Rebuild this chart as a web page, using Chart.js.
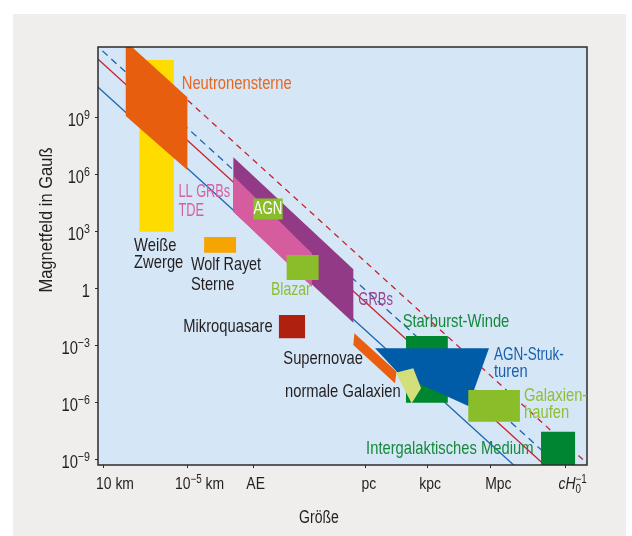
<!DOCTYPE html>
<html>
<head>
<meta charset="utf-8">
<script src="https://cdn.jsdelivr.net/npm/chart.js@4.4.1/dist/chart.umd.min.js"></script>
<style>
  html, body { margin: 0; padding: 0; background: #ffffff; }
  canvas { display: block; }
</style>
</head>
<body>
<canvas id="hillas" width="632" height="536"></canvas>
<script>
// Hillas diagram: size (log10 km) against magnetic field (log10 Gauss)

// ---- axis ticks ----
const sizeTicks = [1, 5, 8.175, 13.489, 16.489, 19.489, 23.1];
const sizeTickLabels = ['10 km', '10^{−5} km', 'AE', 'pc', 'kpc', 'Mpc', '*cH*_{0}^{−1}'];
const fieldTicks = [-9, -6, -3, 0, 3, 6, 9];
const fieldTickLabels = ['10^{−9}', '10^{−6}', '10^{−3}', '1', '10^{3}', '10^{6}', '10^{9}'];

// ---- Hillas limits (two end points each, [log R, log B]) ----
const ironSolid    = [[0.5, 10.8], [21.0, -9.7]];
const protonSolid  = [[0.5, 12.28], [23.0, -10.22]];
const ironDashed   = [[0.5, 12.92], [23.5, -10.08]];
const protonDashed = [[1.5, 13.4], [25.0, -10.1]];

// ---- source regions (corner points, [log R, log B]) ----
const whiteDwarfs    = [[2.69, 12.02], [4.34, 12.02], [4.34, 2.98], [2.69, 2.98]];
const neutronStars   = [[2.04, 13.0], [4.99, 10.05], [4.99, 6.23], [2.04, 9.07]];
const grbs           = [[7.19, 6.9], [12.93, 1.0], [12.93, -1.81], [7.19, 4.03]];
const llGrbsTde      = [[7.19, 5.91], [10.95, 1.84], [10.95, 0.08], [7.19, 4.03]];
const agnCores       = [[8.14, 4.72], [9.55, 4.72], [9.55, 3.62], [8.14, 3.62]];
const wolfRayet      = [[5.79, 2.7], [7.32, 2.7], [7.32, 1.87], [5.79, 1.87]];
const blazars        = [[9.74, 1.75], [11.27, 1.75], [11.27, 0.44], [9.74, 0.44]];
const microquasars   = [[9.37, -1.41], [10.62, -1.41], [10.62, -2.63], [9.37, -2.63]];
const starburstWinds = [[15.45, -2.51], [17.45, -2.51], [17.45, -6.02], [15.45, -6.02]];
const agnStructures  = [[13.97, -3.16], [19.42, -3.16], [18.43, -6.2], [15.16, -4.56]];
const supernovae     = [[12.98, -2.37], [15.0, -4.39], [14.92, -5.0], [12.93, -2.98]];
const normalGalaxies = [[14.96, -4.44], [15.8, -4.21], [16.17, -5.26], [15.72, -6.05]];
const clusters       = [[18.43, -5.35], [20.9, -5.35], [20.9, -7.02], [18.43, -7.02]];
const igm            = [[21.91, -7.55], [23.54, -7.55], [23.54, -9.6], [21.91, -9.6]];

// ---- region names, anchored in data units [log R, log B] ----
const regionNames = [
  { text: 'Neutronensterne', at: [4.72, 10.74], color: '#e8661e', align: 'left' },
  { text: 'LL GRBs', at: [4.56, 5.07], color: '#d65fa0', align: 'left', sq: 0.71 },
  { text: 'TDE', at: [4.56, 4.08], color: '#d65fa0', align: 'left', sq: 0.71 },
  { text: 'AGN', at: [8.845, 4.17], color: '#ffffff', align: 'center', sq: 0.74 },
  { text: 'Weiße', at: [2.44, 2.24], color: '#231f20', align: 'left' },
  { text: 'Zwerge', at: [2.44, 1.36], color: '#231f20', align: 'left' },
  { text: 'Wolf Rayet', at: [5.16, 1.22], color: '#231f20', align: 'left', sq: 0.8 },
  { text: 'Sterne', at: [5.16, 0.2], color: '#231f20', align: 'left' },
  { text: 'Blazar', at: [8.99, -0.08], color: '#8dbf35', align: 'left', sq: 0.78 },
  { text: 'GRBs', at: [13.17, -0.62], color: '#9b4290', align: 'left', sq: 0.72 },
  { text: 'Mikroquasare', at: [9.07, -2.0], color: '#231f20', align: 'right' },
  { text: 'Starburst-Winde', at: [15.29, -1.76], color: '#16883a', align: 'left' },
  { text: 'Supernovae', at: [9.58, -3.72], color: '#231f20', align: 'left' },
  { text: 'AGN-Struk-', at: [19.66, -3.48], color: '#1a60ab', align: 'left', sq: 0.75 },
  { text: 'turen', at: [19.66, -4.4], color: '#1a60ab', align: 'left' },
  { text: 'normale Galaxien', at: [9.66, -5.44], color: '#231f20', align: 'left' },
  { text: 'Galaxien-', at: [21.1, -5.66], color: '#8dbf35', align: 'left' },
  { text: 'haufen', at: [21.1, -6.56], color: '#8dbf35', align: 'left' },
  { text: 'Intergalaktisches Medium', at: [13.54, -8.42], color: '#17893b', align: 'left' }
];

const FONT = "'Liberation Sans', Arial, sans-serif";
const SQUEEZE = 0.82;      // condensed look
const LABEL_SIZE = 19;     // region names, widths kept as at 18px

const toPoints = arr => arr.map(([x, y]) => ({ x, y }));
const closed = arr => toPoints(arr.concat([arr[0]]));

function limitLine(pts, color, dash) {
  return {
    data: toPoints(pts), showLine: true, borderColor: color, borderWidth: 1.3,
    borderDash: dash, pointRadius: 0, fill: false, tension: 0
  };
}
function region(pts, color) {
  return {
    data: closed(pts), showLine: true, borderColor: 'rgba(0,0,0,0)', borderWidth: 0,
    backgroundColor: color, pointRadius: 0, fill: 'shape', tension: 0
  };
}

// back-to-front
const layers = [
  limitLine(ironSolid, '#1b64b1', []),
  limitLine(protonSolid, '#c8212a', []),
  limitLine(ironDashed, '#1b64b1', [7, 5]),
  limitLine(protonDashed, '#c8212a', [6, 5]),
  region(whiteDwarfs, '#ffdc00'),
  region(neutronStars, '#e85e0f'),
  region(grbs, '#933a86'),
  region(llGrbsTde, '#d55c9e'),
  region(agnCores, '#89bd29'),
  region(wolfRayet, '#f5a400'),
  region(blazars, '#89bd29'),
  region(microquasars, '#b0200e'),
  region(starburstWinds, '#00862f'),
  region(agnStructures, '#005ca6'),
  region(supernovae, '#ea5e10'),
  region(normalGalaxies, '#d3df7a'),
  region(clusters, '#89bd29'),
  region(igm, '#008532')
];
layers.forEach((d, i) => { d.order = layers.length - i; });

// text drawn with a horizontal squeeze
function squeezedText(ctx, text, x, y, align, sq) {
  const w = ctx.measureText(text).width * sq;
  const x0 = align === 'center' ? x - w / 2 : align === 'right' ? x - w : x;
  ctx.save();
  ctx.translate(x0, y);
  ctx.scale(sq, 1);
  ctx.textAlign = 'left';
  ctx.fillText(text, 0, 0);
  ctx.restore();
}

// small markup: ^{sup}, _{sub}, *italic*
function parseMarkup(s) {
  const parts = [];
  let italic = false, buf = '';
  for (let i = 0; i < s.length; i++) {
    const c = s[i];
    if (c === '*') {
      if (buf) parts.push({ t: buf, italic, mode: 'n' });
      buf = ''; italic = !italic; continue;
    }
    if ((c === '^' || c === '_') && s[i + 1] === '{') {
      if (buf) parts.push({ t: buf, italic, mode: 'n' });
      buf = '';
      const end = s.indexOf('}', i);
      parts.push({ t: s.slice(i + 2, end), italic: false, mode: c === '^' ? 'sup' : 'sub' });
      i = end; continue;
    }
    buf += c;
  }
  if (buf) parts.push({ t: buf, italic, mode: 'n' });
  return parts;
}

function drawRich(ctx, markup, x, y, size, align, color) {
  const parts = parseMarkup(markup);
  const small = Math.round(size * 0.7);
  const placed = [];
  let cursor = 0, prev = null;
  for (const p of parts) {
    const font = `${p.italic ? 'italic ' : ''}${p.mode === 'n' ? size : small}px ${FONT}`;
    ctx.font = font;
    const w = ctx.measureText(p.t).width * SQUEEZE;
    let px = cursor;
    if (prev && prev.mode !== 'n' && p.mode !== 'n' && prev.mode !== p.mode) px = prev.x;
    const item = { t: p.t, mode: p.mode, x: px, font };
    placed.push(item);
    cursor = Math.max(cursor, px + w);
    prev = item;
  }
  const x0 = align === 'center' ? x - cursor / 2 : align === 'right' ? x - cursor : x;
  ctx.textBaseline = 'alphabetic';
  ctx.fillStyle = color;
  for (const p of placed) {
    ctx.font = p.font;
    const dy = p.mode === 'sup' ? -size * 0.38 : p.mode === 'sub' ? size * 0.26 : 0;
    squeezedText(ctx, p.t, x0 + p.x, y + dy, 'left', SQUEEZE);
  }
}

const backdrop = {
  id: 'backdrop',
  beforeDraw(chart) {
    const { ctx, chartArea: a } = chart;
    ctx.save();
    ctx.fillStyle = '#ffffff';
    ctx.fillRect(0, 0, chart.width, chart.height);
    ctx.fillStyle = '#efeeec';
    ctx.fillRect(13, 14, 613, 522);
    ctx.fillStyle = '#d5e6f6';
    ctx.fillRect(a.left, a.top, a.right - a.left, a.bottom - a.top);
    ctx.restore();
  }
};

const sizeLabelShift = [11, 12, 1.7, 3.8, 2.5, 8, 6.7];

const overlay = {
  id: 'overlay',
  afterDraw(chart) {
    const { ctx, chartArea: a, scales: { x, y } } = chart;
    ctx.save();
    // frame
    ctx.strokeStyle = '#2b2b2b';
    ctx.lineWidth = 1.5;
    ctx.strokeRect(a.left, a.top, a.right - a.left, a.bottom - a.top);

    // region names
    ctx.textBaseline = 'middle';
    ctx.font = `${LABEL_SIZE}px ${FONT}`;
    for (const r of regionNames) {
      ctx.fillStyle = r.color;
      const sq = (r.sq || SQUEEZE) * 18 / LABEL_SIZE;
      squeezedText(ctx, r.text, x.getPixelForValue(r.at[0]), y.getPixelForValue(r.at[1]), r.align, sq);
    }

    // tick labels
    sizeTicks.forEach((v, i) => {
      drawRich(ctx, sizeTickLabels[i], x.getPixelForValue(v) + sizeLabelShift[i], a.bottom + 24, 17, 'center', '#231f20');
    });
    fieldTicks.forEach((v, i) => {
      drawRich(ctx, fieldTickLabels[i], a.left - 8, y.getPixelForValue(v) + 8.7, 18, 'right', '#231f20');
    });

    // axis titles
    ctx.fillStyle = '#231f20';
    ctx.textBaseline = 'alphabetic';
    ctx.font = `18px ${FONT}`;
    squeezedText(ctx, 'Größe', 319, 523, 'center', 0.78);
    ctx.translate(52, 220);
    ctx.rotate(-Math.PI / 2);
    ctx.font = `19px ${FONT}`;
    squeezedText(ctx, 'Magnetfeld in Gauß', 0, 0, 'center', 0.87);
    ctx.restore();
  }
};

new Chart(document.getElementById('hillas'), {
  type: 'scatter',
  data: { datasets: layers },
  options: {
    responsive: false,
    animation: false,
    devicePixelRatio: 1,
    layout: { padding: { top: 47, right: 45, left: 0, bottom: 0 } },
    plugins: { legend: { display: false }, tooltip: { enabled: false } },
    scales: {
      x: {
        type: 'linear', min: 0.713, max: 24.11,
        afterBuildTicks: s => { s.ticks = sizeTicks.map(v => ({ value: v })); },
        afterFit: s => { s.height = 71; },
        ticks: { display: false },
        grid: { drawOnChartArea: false, drawTicks: true, tickLength: 3, tickColor: '#2b2b2b', tickWidth: 1 },
        border: { display: false }
      },
      y: {
        type: 'linear', min: -9.3, max: 12.7,
        afterBuildTicks: s => { s.ticks = fieldTicks.map(v => ({ value: v })); },
        afterFit: s => { s.width = 98; },
        ticks: { display: false },
        grid: { drawOnChartArea: false, drawTicks: true, tickLength: 3, tickColor: '#2b2b2b', tickWidth: 1 },
        border: { display: false }
      }
    }
  },
  plugins: [backdrop, overlay]
});
</script>
</body>
</html>
